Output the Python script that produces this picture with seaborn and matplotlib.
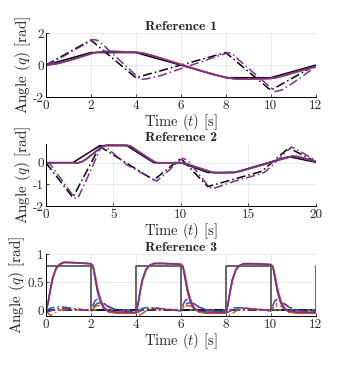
import pandas as pd
import seaborn as sns
import matplotlib.pyplot as plt

# colores tipo MATLAB
BLUE = (0.0, 0.447, 0.741)
ORANGE = (0.85, 0.325, 0.098)
PURPLE = (0.494, 0.184, 0.556)

# ---- Reference 1 ----
r1_t = [0, 2, 4, 6, 8, 10, 12]
r1_ref_a = [0, 0.785, 0.785, 0, -0.785, -0.785, 0]
r1_t_b = [0, 2, 4, 8, 10, 12]
r1_ref_b = [0, 1.571, -0.785, 0.785, -1.571, 0]

r1_tr = [0, 0.5, 1, 1.5, 2, 2.3, 2.6, 3, 3.5, 4, 4.3, 4.7, 5, 5.5, 6, 6.5, 7, 7.5,
         8, 8.3, 8.6, 9, 9.5, 10, 10.3, 10.7, 11, 11.5, 12]
r1_blue = [0, 0.1, 0.28, 0.5, 0.72, 0.82, 0.85, 0.85, 0.83, 0.8, 0.75, 0.6, 0.48, 0.26,
           0.04, -0.18, -0.4, -0.6, -0.76, -0.83, -0.86, -0.86, -0.85, -0.83, -0.76,
           -0.6, -0.48, -0.28, -0.08]
r1_orange = [0, 0.09, 0.26, 0.48, 0.7, 0.81, 0.86, 0.86, 0.84, 0.81, 0.77, 0.63, 0.5,
             0.28, 0.06, -0.16, -0.38, -0.58, -0.75, -0.84, -0.88, -0.87, -0.86, -0.84,
             -0.78, -0.63, -0.5, -0.3, -0.1]
r1_purple = [0, 0.1, 0.28, 0.5, 0.72, 0.82, 0.85, 0.85, 0.83, 0.8, 0.74, 0.6, 0.47,
             0.25, 0.03, -0.19, -0.41, -0.61, -0.77, -0.84, -0.86, -0.86, -0.85, -0.83,
             -0.75, -0.59, -0.47, -0.27, -0.07]
r1_tdd = [0, 0.4, 2.1, 2.3, 2.6, 4.2, 4.5, 5, 8.1, 8.3, 8.6, 10.2, 10.5, 11, 12]
r1_purple_dd = [0, 0.25, 1.6, 1.55, 1.2, -0.9, -0.85, -0.7, 0.78, 0.7, 0.3, -1.65,
                -1.55, -1.1, -0.1]

# ---- Reference 2 ----
r2_t = [0, 2, 4, 6, 8, 10, 12, 14, 18, 20]
r2_ref_a = [0, 0, 0.785, 0.785, 0, 0, -0.45, -0.45, 0.28, 0.02]
r2_t_b = [0, 2, 4, 8, 10, 12, 16, 18, 20]
r2_ref_b = [0, -1.6, 0.75, -0.8, 0.2, -1.1, -0.4, 0.68, 0.05]

r2_tr = [0, 2, 2.3, 2.7, 3, 3.5, 4, 4.3, 4.6, 5, 6, 6.3, 6.6, 7, 8, 8.3, 8.6, 9, 10,
         10.4, 11, 12, 12.4, 12.8, 14, 14.4, 15, 16, 17, 18, 18.3, 18.6, 19, 20]
r2_blue = [0, 0, -0.02, 0.06, 0.18, 0.42, 0.68, 0.78, 0.81, 0.81, 0.8, 0.75, 0.62, 0.45,
           0.05, -0.02, -0.02, -0.01, 0, -0.05, -0.18, -0.38, -0.45, -0.46, -0.44,
           -0.38, -0.28, -0.1, 0.09, 0.26, 0.3, 0.28, 0.22, 0.05]
r2_orange = [0, 0, -0.03, 0.04, 0.16, 0.4, 0.66, 0.77, 0.82, 0.82, 0.81, 0.77, 0.64,
             0.47, 0.07, -0.01, -0.03, -0.02, 0, -0.04, -0.16, -0.36, -0.46, -0.48,
             -0.45, -0.4, -0.3, -0.12, 0.07, 0.25, 0.31, 0.3, 0.24, 0.07]
r2_purple = [0, 0, -0.02, 0.05, 0.17, 0.41, 0.67, 0.78, 0.81, 0.81, 0.8, 0.75, 0.62,
             0.45, 0.05, -0.02, -0.02, -0.01, 0, -0.05, -0.18, -0.38, -0.46, -0.47,
             -0.45, -0.39, -0.29, -0.11, 0.08, 0.25, 0.3, 0.28, 0.22, 0.06]
r2_tdd = [0, 0.3, 2, 2.2, 2.4, 3, 4, 4.2, 4.5, 6, 8, 8.2, 8.5, 10, 10.2, 10.6, 12,
          12.3, 12.6, 14, 16, 16.3, 18, 18.2, 18.5, 20]
r2_purple_dd = [0, -0.05, -1.5, -1.65, -1.6, -0.8, 0.6, 0.78, 0.7, -0.1, -0.78, -0.85,
                -0.7, 0.15, 0.2, 0.05, -1.05, -1.2, -1.15, -0.85, -0.5, -0.4, 0.6,
                0.72, 0.65, 0.1]

# ---- Reference 3 ----
r3_t_sq = [0, 2, 4, 6, 8, 10, 12]
r3_ref_a = [0.785, 0, 0.785, 0, 0.785, 0, 0.785]
r3_t_zero = [0, 12]
r3_ref_b = [0, 0]

r3_t = [0, 0.1, 0.2, 0.3, 0.45, 0.6, 0.8, 1.2, 2, 2.1, 2.2, 2.3, 2.45, 2.6, 2.8, 3.2,
        4, 4.1, 4.2, 4.3, 4.45, 4.6, 4.8, 5.2, 6, 6.1, 6.2, 6.3, 6.45, 6.6, 6.8, 7.2,
        8, 8.1, 8.2, 8.3, 8.45, 8.6, 8.8, 9.2, 10, 10.1, 10.2, 10.3, 10.45, 10.6, 10.8,
        11.2, 12]
r3_blue = [0, 0.14, 0.38, 0.58, 0.75, 0.82, 0.855, 0.85, 0.83, 0.78, 0.55, 0.33, 0.13,
           0.03, -0.02, -0.035,
           -0.04, 0.12, 0.36, 0.56, 0.73, 0.8, 0.835, 0.835, 0.82, 0.77, 0.55, 0.33,
           0.13, 0.03, -0.02, -0.035,
           -0.04, 0.12, 0.36, 0.56, 0.73, 0.8, 0.83, 0.83, 0.815, 0.77, 0.55, 0.33,
           0.13, 0.03, -0.02, -0.035, -0.04]
r3_orange = [0, 0.12, 0.35, 0.55, 0.73, 0.81, 0.85, 0.85, 0.83, 0.8, 0.62, 0.4, 0.18,
             0.05, -0.03, -0.05,
             -0.05, 0.1, 0.33, 0.53, 0.71, 0.79, 0.83, 0.835, 0.82, 0.79, 0.62, 0.4,
             0.18, 0.05, -0.03, -0.05,
             -0.05, 0.1, 0.33, 0.53, 0.71, 0.79, 0.825, 0.83, 0.815, 0.79, 0.62, 0.4,
             0.18, 0.05, -0.03, -0.05, -0.05]
r3_purple = [0, 0.14, 0.38, 0.58, 0.75, 0.82, 0.86, 0.855, 0.835, 0.78, 0.56, 0.34,
             0.14, 0.04, -0.01, -0.03,
             -0.035, 0.12, 0.36, 0.56, 0.73, 0.8, 0.84, 0.84, 0.825, 0.77, 0.56, 0.34,
             0.14, 0.04, -0.01, -0.03,
             -0.035, 0.12, 0.36, 0.56, 0.73, 0.8, 0.835, 0.835, 0.82, 0.77, 0.56, 0.34,
             0.14, 0.04, -0.01, -0.03, -0.035]
r3_blue_dd = [0, 0.02, 0.04, 0.05, 0.06, 0.07, 0.06, 0.04, -0.01, 0.05, 0.1, 0.13, 0.14,
              0.12, 0.07, 0.0,
              -0.02, 0.0, 0.02, 0.04, 0.05, 0.05, 0.05, 0.03, -0.01, 0.05, 0.1, 0.13,
              0.14, 0.12, 0.07, 0.0,
              -0.02, 0.0, 0.02, 0.04, 0.05, 0.05, 0.05, 0.03, -0.01, 0.05, 0.1, 0.13,
              0.14, 0.12, 0.07, 0.0, -0.02]
r3_orange_dd = [0, -0.05, -0.09, -0.07, -0.03, 0.0, 0.02, 0.02, 0.0, 0.03, 0.07, 0.09,
                0.08, 0.03, -0.02, -0.05,
                -0.05, -0.08, -0.08, -0.05, -0.01, 0.02, 0.03, 0.03, 0.0, 0.03, 0.07,
                0.09, 0.08, 0.03, -0.02, -0.05,
                -0.05, -0.08, -0.08, -0.05, -0.01, 0.02, 0.03, 0.03, 0.0, 0.03, 0.07,
                0.09, 0.08, 0.03, -0.02, -0.05, -0.05]
r3_purple_dd = [0, -0.02, -0.01, 0.01, 0.03, 0.04, 0.04, 0.03, 0.0, 0.1, 0.18, 0.2,
                0.17, 0.12, 0.06, 0.0,
                -0.03, -0.03, -0.01, 0.01, 0.03, 0.04, 0.04, 0.03, 0.0, 0.1, 0.18, 0.2,
                0.17, 0.12, 0.06, 0.0,
                -0.03, -0.03, -0.01, 0.01, 0.03, 0.04, 0.04, 0.03, 0.0, 0.1, 0.18, 0.2,
                0.17, 0.12, 0.06, 0.0, -0.03]

sns.set_theme(style="ticks")
plt.rcParams["font.family"] = ["cmr10", "DejaVu Serif"]
plt.rcParams["mathtext.fontset"] = "cm"
plt.rcParams["axes.formatter.use_mathtext"] = False
plt.rcParams["axes.unicode_minus"] = False

DD = (6, 2, 1, 2)


def draw(ax, t, q, color, dashed=False, lw=1.1, **kw):
    df = pd.DataFrame({"t": t, "q": q})
    extra = {"dashes": DD} if dashed else {}
    sns.lineplot(data=df, x="t", y="q", ax=ax, color=color, linewidth=lw,
                 estimator=None, sort=False, **extra, **kw)


fig = plt.figure(figsize=(3.5, 3.68), dpi=100)
ax1 = fig.add_axes([0.131, 0.736, 0.771, 0.174])
ax2 = fig.add_axes([0.131, 0.440, 0.771, 0.168])
ax3 = fig.add_axes([0.131, 0.141, 0.771, 0.168])

# Reference 1
draw(ax1, r1_t, r1_ref_a, "black")
draw(ax1, r1_t_b, r1_ref_b, "black", dashed=True)
draw(ax1, r1_tr, r1_blue, BLUE)
draw(ax1, r1_tr, r1_orange, ORANGE)
draw(ax1, r1_tr, r1_purple, PURPLE)
draw(ax1, r1_tdd, r1_purple_dd, PURPLE, dashed=True)
ax1.set_xlim(0, 12)
ax1.set_ylim(-2, 2)
ax1.set_xticks(range(0, 13, 2))
ax1.set_yticks([-2, 0, 2])
ax1.set_title("Reference 1")

# Reference 2
draw(ax2, r2_t, r2_ref_a, "black")
draw(ax2, r2_t_b, r2_ref_b, "black", dashed=True)
draw(ax2, r2_tr, r2_blue, BLUE)
draw(ax2, r2_tr, r2_orange, ORANGE)
draw(ax2, r2_tr, r2_purple, PURPLE)
draw(ax2, r2_tdd, r2_purple_dd, PURPLE, dashed=True)
ax2.set_xlim(0, 20)
ax2.set_ylim(-2, 0.85)
ax2.set_xticks([0, 5, 10, 15, 20])
ax2.set_yticks([-2, -1, 0])
ax2.set_title("Reference 2")

# Reference 3
draw(ax3, r3_t_sq, r3_ref_a, "0.35", lw=1.3, drawstyle="steps-post")
draw(ax3, r3_t_zero, r3_ref_b, "black", dashed=True)
draw(ax3, r3_t, r3_blue_dd, BLUE, dashed=True)
draw(ax3, r3_t, r3_orange_dd, ORANGE, dashed=True)
draw(ax3, r3_t, r3_purple_dd, PURPLE, dashed=True)
draw(ax3, r3_t, r3_blue, BLUE)
draw(ax3, r3_t, r3_orange, ORANGE)
draw(ax3, r3_t, r3_purple, PURPLE)
ax3.set_xlim(0, 12)
ax3.set_ylim(-0.1, 1)
ax3.set_xticks(range(0, 13, 2))
ax3.set_yticks([0, 0.5, 1])
ax3.set_yticklabels(["0", "0.5", "1"])
ax3.set_title("Reference 3")

for ax in (ax1, ax2, ax3):
    ax.set_title(ax.get_title(), fontfamily="cmb10", fontsize=10, pad=1.5)
    ax.set_xlabel("Time $(t)$ [s]", fontsize=10.5, labelpad=0)
    ax.set_ylabel("Angle $(q)$ [rad]", fontsize=11, labelpad=0)
    ax.grid(True, color="0.9", linewidth=0.6)
    ax.tick_params(direction="in", length=2.5, width=0.6, labelsize=9.5)
    ax.tick_params(axis="x", pad=2)
    ax.tick_params(axis="y", pad=1.5)
    sns.despine(ax=ax)
    for s in ("left", "bottom"):
        ax.spines[s].set_linewidth(0.7)
        ax.spines[s].set_color("black")

fig.savefig("out.png", dpi=100)
